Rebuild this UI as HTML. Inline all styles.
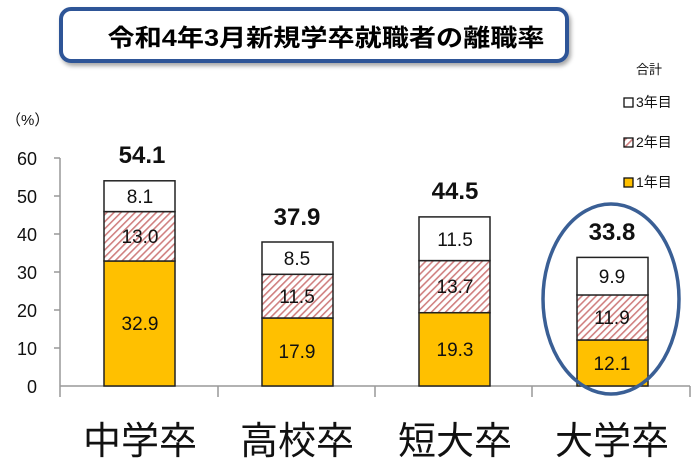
<!DOCTYPE html>
<html><head><meta charset="utf-8"><style>
body{margin:0;background:#fff;}
svg{display:block;font-family:"Liberation Sans","Noto Sans CJK JP",sans-serif;}
</style></head><body>
<svg width="700" height="458" viewBox="0 0 700 458">
<defs>
<pattern id="h" width="5" height="5" patternUnits="userSpaceOnUse" patternTransform="rotate(45)">
<rect width="5" height="5" fill="#fff"/><rect width="1.6" height="5" fill="#d08080"/>
</pattern>
<filter id="sh" x="-5%" y="-20%" width="110%" height="150%"><feDropShadow dx="2" dy="3" stdDeviation="2" flood-color="#000" flood-opacity="0.35"/></filter>
</defs>
<rect x="61" y="9" width="506" height="52" rx="10" fill="#fff" stroke="#2f5597" stroke-width="4" filter="url(#sh)"/>
<text x="326" y="46" font-size="24" font-weight="bold" text-anchor="middle" textLength="437" lengthAdjust="spacingAndGlyphs">令和4年3月新規学卒就職者の離職率</text>
<g stroke="#999" stroke-width="1.5" fill="none">
<line x1="60" y1="158" x2="60" y2="386"/>
<line x1="60" y1="386" x2="690" y2="386"/>
<line x1="54" y1="158" x2="60" y2="158"/><line x1="54" y1="196" x2="60" y2="196"/><line x1="54" y1="234" x2="60" y2="234"/><line x1="54" y1="272" x2="60" y2="272"/><line x1="54" y1="310" x2="60" y2="310"/><line x1="54" y1="348" x2="60" y2="348"/>
<line x1="60" y1="386" x2="60" y2="397"/><line x1="218" y1="386" x2="218" y2="397"/><line x1="375" y1="386" x2="375" y2="397"/><line x1="532" y1="386" x2="532" y2="397"/><line x1="690" y1="386" x2="690" y2="397"/>
</g>
<g font-size="18" fill="#111" text-anchor="end">
<text x="37" y="165">60</text><text x="37" y="203">50</text><text x="37" y="241">40</text><text x="37" y="279">30</text><text x="37" y="317">20</text><text x="37" y="355">10</text><text x="37" y="393">0</text>
</g>
<text x="6" y="125" font-size="15" fill="#111">（%）</text>
<g stroke="#222" stroke-width="1.5">
<rect x="104" y="261" width="71" height="125" fill="#ffc000"/>
<rect x="104" y="211.6" width="71" height="49.4" fill="url(#h)"/>
<rect x="104" y="180.8" width="71" height="30.8" fill="#fff"/>
<rect x="262" y="318" width="71" height="68" fill="#ffc000"/>
<rect x="262" y="274.3" width="71" height="43.7" fill="url(#h)"/>
<rect x="262" y="242" width="71" height="32.3" fill="#fff"/>
<rect x="419" y="312.7" width="71" height="73.3" fill="#ffc000"/>
<rect x="419" y="260.6" width="71" height="52.1" fill="url(#h)"/>
<rect x="419" y="216.9" width="71" height="43.7" fill="#fff"/>
<rect x="577" y="340" width="71" height="46" fill="#ffc000"/>
<rect x="577" y="294.8" width="71" height="45.2" fill="url(#h)"/>
<rect x="577" y="257.4" width="71" height="37.6" fill="#fff"/>
</g>
<g font-size="19" fill="#111" text-anchor="middle">
<text x="140" y="330">32.9</text><text x="140" y="243">13.0</text><text x="140" y="203">8.1</text>
<text x="297" y="358">17.9</text><text x="297" y="303">11.5</text><text x="297" y="265">8.5</text>
<text x="455" y="356">19.3</text><text x="455" y="293">13.7</text><text x="455" y="246">11.5</text>
<text x="612" y="370">12.1</text><text x="612" y="324">11.9</text><text x="612" y="283">9.9</text>
</g>
<g font-size="24" font-weight="bold" fill="#111" text-anchor="middle">
<text x="142" y="163">54.1</text><text x="297" y="225">37.9</text><text x="455" y="199">44.5</text><text x="612" y="240">33.8</text>
</g>
<ellipse cx="611" cy="299" rx="68" ry="95" fill="none" stroke="#3a5f95" stroke-width="3.5"/>
<text x="636" y="74" font-size="13" fill="#111">合計</text>
<g font-size="14" fill="#111">
<rect x="624" y="98" width="9" height="9" fill="#fff" stroke="#111" stroke-width="1.3"/><text x="636" y="107">3年目</text>
<rect x="624" y="138" width="9" height="9" fill="url(#h)" stroke="#111" stroke-width="1.3"/><text x="636" y="147">2年目</text>
<rect x="624" y="178" width="9" height="9" fill="#ffc000" stroke="#111" stroke-width="1.3"/><text x="636" y="187">1年目</text>
</g>
<g font-size="38" fill="#111" text-anchor="middle">
<text x="140" y="454">中学卒</text><text x="297" y="454">高校卒</text><text x="455" y="454">短大卒</text><text x="612" y="454">大学卒</text>
</g>
</svg>
</body></html>
